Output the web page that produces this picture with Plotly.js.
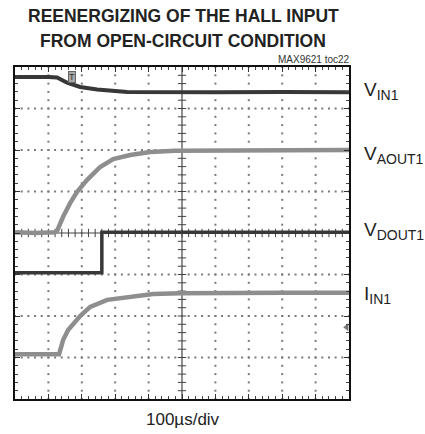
<!DOCTYPE html>
<html>
<head>
<meta charset="utf-8">
<script src="https://cdn.plot.ly/plotly-3.0.1.min.js"></script>
<style>html,body{margin:0;padding:0;background:#fff;}#chart{width:425px;height:434px;}</style>
</head>
<body>
<div id="chart"></div>
<script>
// Time axis in divisions (100 µs/div), vertical axis in divisions (0 = bottom, 8 = top)
const vin1X  = [0, 0.5, 1.0, 1.26, 1.56, 1.95, 2.46, 3.36, 4.5, 6, 8, 10];
const vin1Y  = [7.76, 7.77, 7.76, 7.75, 7.62, 7.52, 7.46, 7.40, 7.39, 7.39, 7.40, 7.39];

const vaoutX = [0, 0.6, 1.2, 1.26, 1.44, 1.65, 1.86, 2.16, 2.55, 2.94, 3.45, 4.05, 4.8, 6, 8, 10];
const vaoutY = [4.02, 4.0, 4.02, 4.05, 4.39, 4.72, 4.99, 5.28, 5.59, 5.78, 5.88, 5.95, 5.98, 5.99, 6.0, 6.0];

const vdoutX = [0, 2.6, 2.6, 10];
const vdoutY = [3.04, 3.04, 4.02, 4.02];

const iinX   = [0, 0.6, 1.32, 1.44, 1.59, 1.95, 2.25, 2.76, 3.36, 4.14, 4.95, 6, 8, 10];
const iinY   = [1.08, 1.07, 1.08, 1.42, 1.66, 2.0, 2.22, 2.39, 2.46, 2.53, 2.55, 2.56, 2.56, 2.56];

const channelLabels = ["V<sub><span style='font-size:14px'>IN1</span></sub>",
                       "V<sub><span style='font-size:14px'>AOUT1</span></sub>",
                       "V<sub><span style='font-size:14px'>DOUT1</span></sub>",
                       "I<sub><span style='font-size:14px'>IN1</span></sub>"];
const channelLabelY = [7.42, 5.88, 4.06, 2.51];

const titleLines = ["REENERGIZING OF THE HALL INPUT", "FROM OPEN-CIRCUIT CONDITION"];
const figureId = "MAX9621 toc22";
const timebase = "100µs/div";

const triggerX = [1.71], triggerY = [7.76];
const groundX = [9.93], groundY = [1.73];

// graticule: 10 x 8 divisions, 5 subdivisions each
const XDIV = 10, YDIV = 8, SUB = 5;

const DARK = '#383838', GRAY = '#8e8e8e';

// graticule dots
const gx = [], gy = [];
for (let j = 1; j < YDIV; j++) {
  if (j === YDIV / 2) continue;
  for (let k = 0; k <= XDIV * SUB; k++) { gx.push(k / SUB); gy.push(j); }
}
for (let i = 1; i < XDIV; i++) {
  if (i === XDIV / 2) continue;
  for (let k = 0; k <= YDIV * SUB; k++) { gx.push(i); gy.push(k / SUB); }
}
// centre cross-bars
const cvx = [], cvy = [], chx = [], chy = [];
for (let k = 1; k < YDIV * SUB; k++) { cvx.push(XDIV / 2); cvy.push(k / SUB); }
for (let k = 1; k < XDIV * SUB; k++) { chx.push(k / SUB); chy.push(YDIV / 2); }

const traces = [
  {x: gx, y: gy, mode: 'markers', marker: {symbol: 'square', size: 2, color: '#7a7a7a'}},
  {x: cvx, y: cvy, mode: 'markers', marker: {symbol: 'line-ew', size: 6, line: {width: 1, color: '#444'}}},
  {x: chx, y: chy, mode: 'markers', marker: {symbol: 'line-ns', size: 6, line: {width: 1, color: '#444'}}},
  {x: vin1X, y: vin1Y, mode: 'lines', line: {color: DARK, width: 4}},
  {x: vdoutX, y: vdoutY, mode: 'lines', line: {color: DARK, width: 3.5}},
  {x: vaoutX, y: vaoutY, mode: 'lines', line: {color: GRAY, width: 4.5}},
  {x: iinX, y: iinY, mode: 'lines', line: {color: GRAY, width: 4.5}},
  {x: groundX, y: groundY, mode: 'markers', marker: {symbol: 'triangle-left', size: 7, color: '#777'}, cliponaxis: false}
].map(t => Object.assign({showlegend: false, hoverinfo: 'skip'}, t));

const W = 334, H = 332;

const axisCommon = {
  showticklabels: false, zeroline: false, showgrid: false,
  showline: true, linecolor: '#111', linewidth: 2, mirror: 'allticks',
  ticks: 'inside', ticklen: 5, tickcolor: '#333', tickwidth: 1, dtick: 1,
  minor: {dtick: 0.2, ticks: 'inside', ticklen: 3, tickcolor: '#444', tickwidth: 1, showgrid: false}
};

const layout = {
  width: 425, height: 434,
  margin: {l: 15, r: 76, t: 67, b: 35},
  paper_bgcolor: '#fff', plot_bgcolor: '#fff',
  showlegend: false,
  xaxis: Object.assign({range: [0, XDIV]}, axisCommon),
  yaxis: Object.assign({range: [0, YDIV]}, axisCommon),
  shapes: [
    {type: 'line', xref: 'x', yref: 'paper', x0: XDIV / 2, x1: XDIV / 2, y0: 0, y1: 1, line: {color: '#444', width: 1.2}, layer: 'below'},
    {type: 'line', xref: 'paper', yref: 'y', x0: 0, x1: 1, y0: YDIV / 2, y1: YDIV / 2, line: {color: '#444', width: 1.2}, layer: 'below'}
  ],
  annotations: [
    {text: '<b>' + titleLines[0] + '</b>', xref: 'paper', yref: 'paper', x: 0.504, y: 1 + (67 - 16) / H,
     xanchor: 'center', yanchor: 'middle', showarrow: false,
     font: {family: 'Liberation Sans, Arial, sans-serif', size: 17.5, color: '#222'}},
    {text: '<b>' + titleLines[1] + '</b>', xref: 'paper', yref: 'paper', x: 0.504, y: 1 + (67 - 41) / H,
     xanchor: 'center', yanchor: 'middle', showarrow: false,
     font: {family: 'Liberation Sans, Arial, sans-serif', size: 17.5, color: '#222'}},
    {text: figureId, xref: 'paper', yref: 'paper', x: 1.01, y: 1 + (67 - 60) / H,
     xanchor: 'right', yanchor: 'middle', showarrow: false,
     font: {family: 'Liberation Sans Narrow, Liberation Sans, Arial, sans-serif', size: 10, color: '#333'}},
    {text: timebase, xref: 'paper', yref: 'paper', x: 0.504, y: -(420 - 399) / H,
     xanchor: 'center', yanchor: 'middle', showarrow: false,
     font: {family: 'Liberation Sans, Arial, sans-serif', size: 17, color: '#222'}},
    {text: 'T', xref: 'x', yref: 'y', x: triggerX[0], y: triggerY[0], showarrow: false,
     bgcolor: '#a8a8a8', bordercolor: '#666', borderwidth: 1, borderpad: 0,
     font: {family: 'Liberation Sans, Arial, sans-serif', size: 9, color: '#333'}}
  ].concat(channelLabels.map((t, i) => ({
    text: t, xref: 'paper', yref: 'y', x: (362 - 15) / W, y: channelLabelY[i],
    xanchor: 'left', yanchor: 'middle', showarrow: false,
    font: {family: 'Liberation Sans Narrow, Liberation Sans, Arial, sans-serif', size: 19, color: '#222'}
  })))
};

Plotly.newPlot('chart', traces, layout, {staticPlot: true, displayModeBar: false});
</script>
</body>
</html>
